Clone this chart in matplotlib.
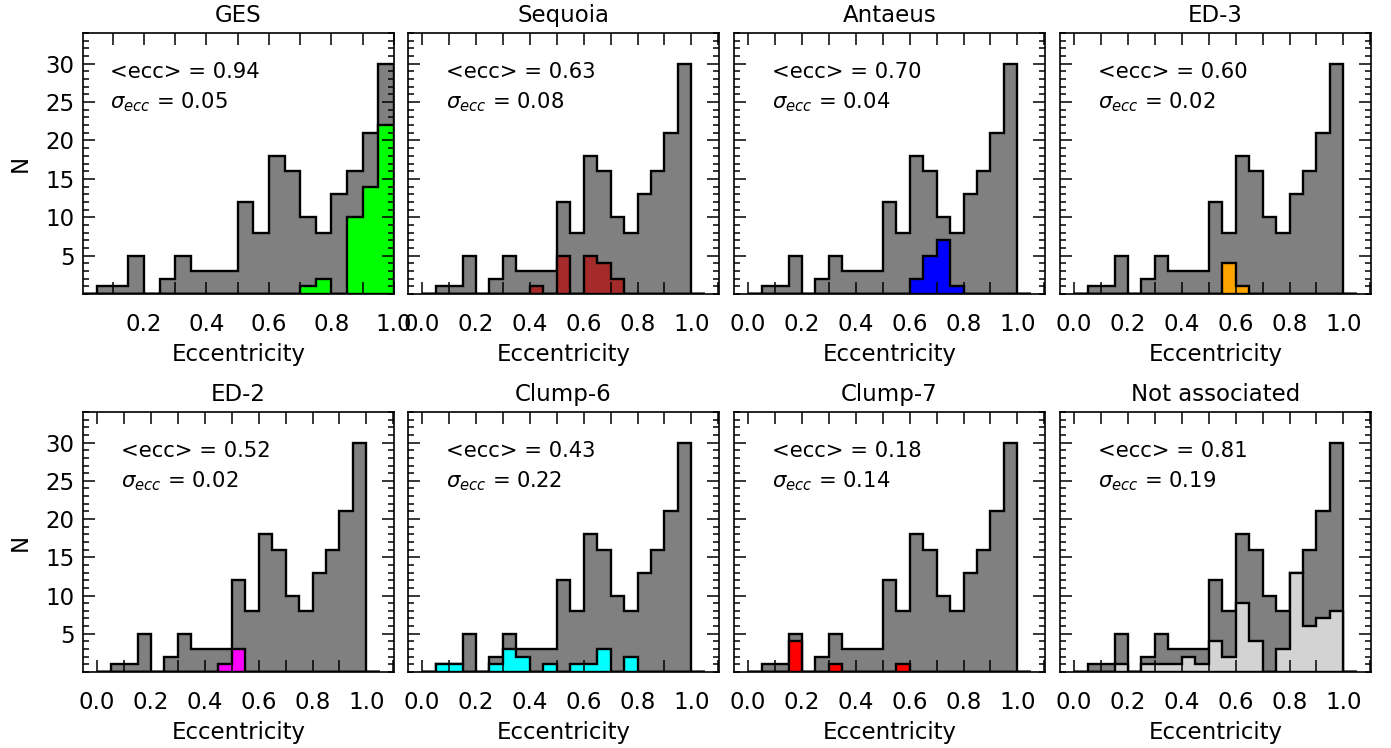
import numpy as np
import matplotlib
matplotlib.use("Agg")
import matplotlib.pyplot as plt
from matplotlib.ticker import MultipleLocator, FixedLocator

# Bin edges (width 0.05, from 0.0 to 1.05)
bin_edges = np.round(np.arange(0.0, 1.0501, 0.05), 2)

# Counts per bin (21 bins: 0.00-0.05 ... 1.00-1.05)
all_counts = [0, 1, 1, 5, 0, 2, 5, 3, 3, 3, 12, 8, 18, 16, 10, 8, 13, 16, 21, 30, 0]

panel_titles = ["GES", "Sequoia", "Antaeus", "ED-3",
                "ED-2", "Clump-6", "Clump-7", "Not associated"]
panel_colors = ["#00ff00", "#a52a2a", "#0000ff", "#ffa500",
                "#ff00ff", "#00ffff", "#ff0000", "#d3d3d3"]

ges_counts      = [0, 0, 0, 0, 0, 0, 0, 0, 0, 0, 0, 0, 0, 0, 1, 2, 0, 10, 14, 22, 0]
sequoia_counts  = [0, 0, 0, 0, 0, 0, 0, 0, 1, 0, 5, 0, 5, 4, 2, 0, 0, 0, 0, 0, 0]
antaeus_counts  = [0, 0, 0, 0, 0, 0, 0, 0, 0, 0, 0, 0, 2, 5, 7, 1, 0, 0, 0, 0, 0]
ed3_counts      = [0, 0, 0, 0, 0, 0, 0, 0, 0, 0, 0, 4, 1, 0, 0, 0, 0, 0, 0, 0, 0]
ed2_counts      = [0, 0, 0, 0, 0, 0, 0, 0, 0, 1, 3, 0, 0, 0, 0, 0, 0, 0, 0, 0, 0]
clump6_counts   = [0, 1, 1, 0, 0, 1, 3, 2, 0, 1, 0, 1, 1, 3, 0, 2, 0, 0, 0, 0, 0]
clump7_counts   = [0, 0, 0, 4, 0, 0, 1, 0, 0, 0, 0, 1, 0, 0, 0, 0, 0, 0, 0, 0, 0]
notassoc_counts = [0, 0, 0, 1, 0, 1, 1, 1, 2, 1, 4, 2, 9, 4, 0, 3, 13, 6, 7, 8, 0]

group_counts = [ges_counts, sequoia_counts, antaeus_counts, ed3_counts,
                ed2_counts, clump6_counts, clump7_counts, notassoc_counts]

mean_ecc = ["0.94", "0.63", "0.70", "0.60", "0.52", "0.43", "0.18", "0.81"]
sigma_ecc = ["0.05", "0.08", "0.04", "0.02", "0.02", "0.22", "0.14", "0.19"]

W, H = 1391, 748
fig = plt.figure(figsize=(W / 100, H / 100), dpi=100)

lefts = [83, 408, 734, 1060]
ax_w = 311
rows = [(33, 294), (412, 672)]

centers = (bin_edges[:-1] + bin_edges[1:]) / 2
fs = 16.5
fs_txt = 15.2

for i in range(8):
    r, c = divmod(i, 4)
    top, bot = rows[r]
    ax = fig.add_axes([lefts[c] / W, 1 - bot / H, ax_w / W, (bot - top) / H])
    ax.hist(centers, bins=bin_edges, weights=all_counts, histtype="stepfilled",
            facecolor="#808080", edgecolor="black", linewidth=1.7)
    ax.hist(centers, bins=bin_edges, weights=group_counts[i], histtype="stepfilled",
            facecolor=panel_colors[i], edgecolor="black", linewidth=1.7)
    ax.set_ylim(0, 34)
    if i == 0:
        ax.set_xlim(0.005, 1.0)
    ax.xaxis.set_major_locator(MultipleLocator(0.2))
    ax.xaxis.set_minor_locator(MultipleLocator(0.1))
    ax.yaxis.set_major_locator(FixedLocator([5, 10, 15, 20, 25, 30]))
    ax.yaxis.set_minor_locator(MultipleLocator(1))
    ax.tick_params(axis="both", which="both", direction="in", top=True, right=True,
                   labelsize=fs, width=1.1)
    ax.tick_params(axis="x", which="both", length=8.5, pad=14)
    ax.tick_params(axis="y", which="major", length=8.5, pad=6)
    ax.tick_params(axis="y", which="minor", length=4.5)
    for s in ax.spines.values():
        s.set_linewidth(1.2)
    if c == 0:
        ax.set_ylabel("N", fontsize=fs, labelpad=10)
    else:
        ax.tick_params(axis="y", labelleft=False)
    ax.set_xlabel("Eccentricity", fontsize=fs, labelpad=5)
    ax.set_title(panel_titles[i], fontsize=fs, pad=8)
    ax.text(0.09, 28.9, "<ecc> = " + mean_ecc[i], fontsize=fs_txt, va="center", ha="left")
    ax.text(0.09, 25.0, r"$\sigma_{ecc}$ = " + sigma_ecc[i], fontsize=fs_txt,
            va="center", ha="left")

fig.savefig("out.png", dpi=100)
